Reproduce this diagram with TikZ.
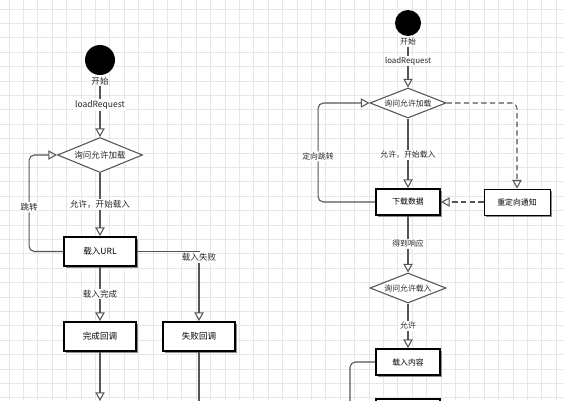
\documentclass[tikz,border=0pt]{standalone}
\usepackage{fontspec}
\newfontfamily\cjk{Noto Sans CJK SC}
\usetikzlibrary{arrows.meta, positioning, shapes.geometric, shadows}
\definecolor{linegray}{HTML}{555555}
\definecolor{gridgray}{HTML}{E6E6E6}
\tikzset{
    flow/.style={-{Triangle[open, length=6.5pt, width=7pt]}, linegray, line width=0.8pt},
    plain_line/.style={linegray, line width=0.8pt},
    dashed_flow/.style={flow, dash pattern=on 4pt off 2.5pt},
    gridline/.style={gridgray, line width=0.5pt},
    box/.style={draw=black, line width=1.4pt, fill=white, minimum width=54pt, minimum height=21.75pt,
        drop shadow={shadow xshift=1.5pt, shadow yshift=-1.5pt, fill=black!45, opacity=1}},
    smallbox/.style={box, minimum width=48pt, minimum height=19.5pt},
    thinbox/.style={smallbox, line width=0.6pt, minimum width=49.5pt},
    ask/.style={diamond, draw=linegray, line width=0.8pt, fill=white, text=black!85, aspect=2.4, inner sep=0pt,
        minimum width=63.75pt, minimum height=26.25pt},
    smallask/.style={ask, minimum width=57pt, minimum height=22.5pt},
    start/.style={circle, fill=black, minimum size=22.5pt, inner sep=0pt},
    lbl/.style={fill=white, text=black!85, inner sep=1pt},
    every node/.style={font=\cjk\fontsize{6.4}{7.5}\selectfont}
}

\begin{document}
\begin{tikzpicture}[x=0.75pt, y=-0.75pt]
    \useasboundingbox (0,0) rectangle (563,400);
    \clip (0,0) rectangle (563,400);
    \fill[white] (0,0) rectangle (563,400);
    % Grid
    \foreach \k in {0,...,39} {
        \draw[gridline] ({9+14.4*\k},0) -- ({9+14.4*\k},400);
    }
    \foreach \k in {0,...,27} {
        \draw[gridline] (0,{9+14.4*\k}) -- (563,{9+14.4*\k});
    }

    % Left: loadRequest
    \node[start] (start1) at (100,60) {};
    \node[below=0pt of start1, inner sep=1pt, text=black!85] (begin1) {开始};
    \node[ask] (ask1) at (100,155) {询问允许加载};
    \node[box] (url) at (100,251.5) {载入URL};
    \node[box] (done) at (100,336.5) {完成回调};
    \node[box] (fail) at (199,336.5) {失败回调};
    \coordinate (doneend) at (100,401);
    \coordinate (failend) at (199,410);

    \draw[flow] (begin1) -- node[lbl, pos=0.37] {loadRequest} (ask1);
    \draw[flow] (ask1) -- node[lbl, pos=0.5] {允许，开始载入} (url);
    \draw[flow] (url) -- node[lbl, pos=0.5] {载入完成} (done);
    \draw[flow] (url.east) -| node[lbl, pos=0.5, anchor=north] {载入失败} (fail.north);
    \draw[flow, rounded corners=4pt] (url.west) -- ++(-34,0) |- node[lbl, pos=0.23] {跳转} (ask1.west);
    \draw[flow] (done) -- (doneend);
    \draw[plain_line] (fail) -- (failend);

    % Right: redirect
    \begin{scope}[nodes={font=\cjk\fontsize{5.9}{7}\selectfont}]
    \node[start, minimum size=19.5pt] (start2) at (408,23) {};
    \node[below=0pt of start2, inner sep=1pt, text=black!85] (begin2) {开始};
    \node[smallask] (ask2) at (408,103) {询问允许加载};
    \node[smallbox] (fetch) at (408,202) {下载数据};
    \node[thinbox] (redirect) at (517,202) {重定向通知};
    \node[smallask] (ask3) at (408,288) {询问允许载入};
    \node[smallbox] (content) at (408,362) {载入内容};
    \node[smallbox] (next) at (408,412) {};
    \coordinate (contentend) at (350,410);

    \draw[flow] (begin2) -- node[lbl, pos=0.35] {loadRequest} (ask2);
    \draw[flow] (ask2) -- node[lbl, pos=0.52] {允许，开始载入} (fetch);
    \draw[dashed_flow, rounded corners=4pt] (ask2.east) -| (redirect.north);
    \draw[dashed_flow] (redirect.west) -- (fetch.east);
    \draw[flow, rounded corners=4pt] (fetch.west) -- ++(-57,0) |- node[lbl, pos=0.23] {定向跳转} (ask2.west);
    \draw[flow] (fetch) -- node[lbl, pos=0.49] {得到响应} (ask3);
    \draw[flow] (ask3) -- node[lbl, pos=0.5] {允许} (content);
    \draw[plain_line, rounded corners=4pt] (content.west) -| (contentend);
    \end{scope}
\end{tikzpicture}
\end{document}
